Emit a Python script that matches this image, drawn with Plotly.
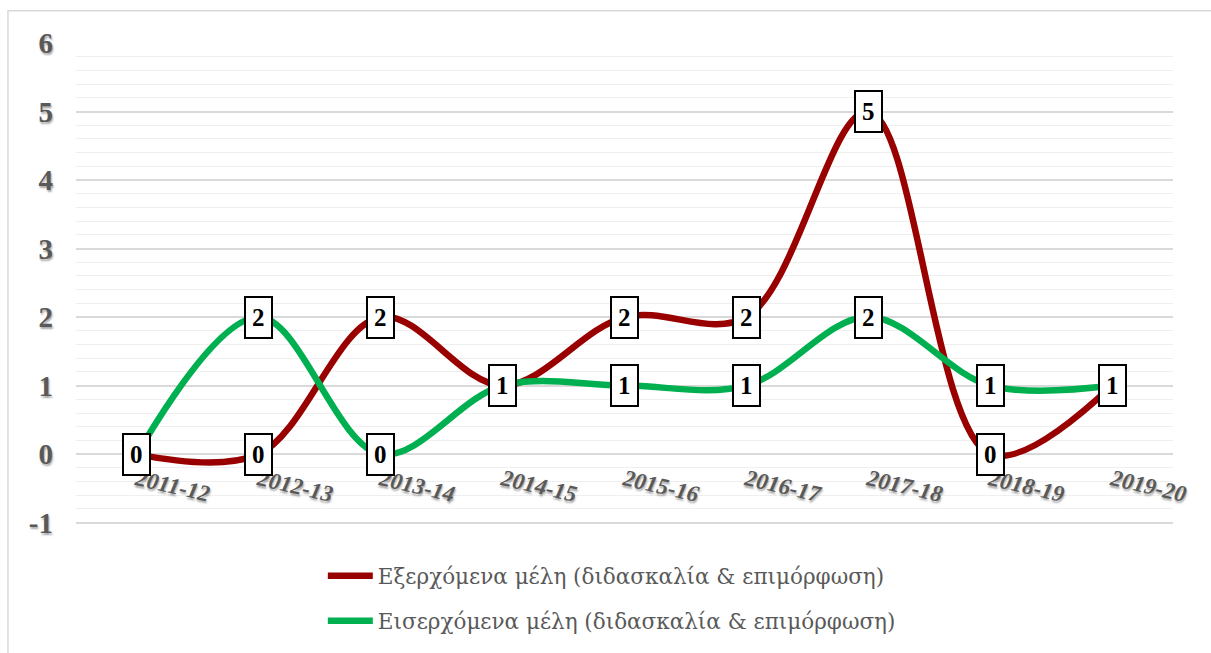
import plotly.graph_objects as go

categories = ["2011-12", "2012-13", "2013-14", "2014-15", "2015-16",
              "2016-17", "2017-18", "2018-19", "2019-20"]
outgoing = [0, 0, 2, 1, 2, 2, 5, 0, 1]
incoming = [0, 2, 0, 1, 1, 1, 2, 1, 1]
name_out = "Εξερχόμενα μέλη (διδασκαλία & επιμόρφωση)"
name_in = "Εισερχόμενα μέλη (διδασκαλία & επιμόρφωση)"
y_ticks = [-1, 0, 1, 2, 3, 4, 5, 6]
y_ticktext = [str(v) for v in y_ticks]

RED = "#990000"
GREEN = "#00b050"
SERIF = "Liberation Serif"
SHADOW = "1px 2px 2px rgba(0,0,0,0.35)"

fig = go.Figure()
fig.add_trace(go.Scatter(x=categories, y=outgoing, name=name_out, mode="lines",
                         line=dict(color=RED, width=6.5, shape="spline", smoothing=1.0),
                         legendgroup="a"))
fig.add_trace(go.Scatter(x=categories, y=incoming, name=name_in, mode="lines",
                         line=dict(color=GREEN, width=6.5, shape="spline", smoothing=1.0),
                         legendgroup="b"))

annotations = []
for series in (outgoing, incoming):
    for c, v in zip(categories, series):
        annotations.append(dict(
            x=c, y=v, xref="x", yref="y", text=str(v), showarrow=False,
            font=dict(family=SERIF, size=25, color="black", weight="bold"),
            bgcolor="white", bordercolor="black", borderwidth=2, borderpad=6,
            xanchor="center", yanchor="middle"))

fig.update_layout(
    width=1211, height=653,
    margin=dict(l=76, r=38, t=43, b=129, autoexpand=False),
    paper_bgcolor="white", plot_bgcolor="white",
    showlegend=True,
    legend=dict(orientation="v", x=0.225, xanchor="left", y=-0.065, yanchor="top",
                font=dict(family="DejaVu Serif", size=21.5, color="#595959"),
                tracegroupgap=14, itemwidth=45, bgcolor="rgba(0,0,0,0)"),
    annotations=annotations,
    shapes=[dict(type="rect", xref="paper", yref="paper",
                 x0=-0.062, x1=1.2, y0=-0.6, y1=1.067,
                 line=dict(color="#d9d9d9", width=1.5), layer="below")],
    xaxis=dict(type="category", categoryorder="array", categoryarray=categories,
               range=[-0.5, len(categories) - 0.5], automargin=False,
               anchor="free", position=1.02 / 7.02, showgrid=False, showline=False,
               ticks="", tickangle=13,
               tickfont=dict(family=SERIF, size=23, color="#595959",
                             weight="bold", style="italic", shadow=SHADOW),
               ticklabelstandoff=7, zeroline=False),
    yaxis=dict(range=[-1.02, 6], tickvals=y_ticks, ticktext=y_ticktext, showgrid=True,
               gridcolor="#d9d9d9", gridwidth=1.5, zeroline=False, automargin=False,
               showline=False, ticks="",
               tickfont=dict(family=SERIF, size=29, color="#595959",
                             weight="bold", shadow=SHADOW),
               ticklabelstandoff=22,
               minor=dict(dtick=0.2, showgrid=True, gridcolor="#efefef", gridwidth=1.2)),
)

fig.write_html("out.html", config={"displayModeBar": False},
               post_script="document.body.style.margin='0';document.body.style.padding='0';")
